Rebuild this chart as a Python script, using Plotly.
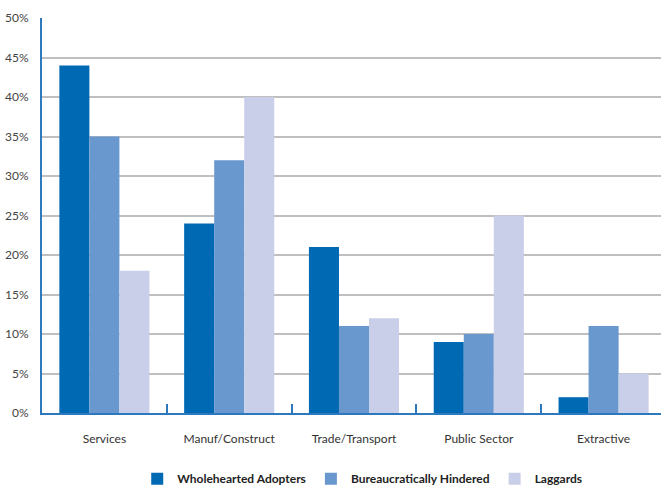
import plotly.graph_objects as go

categories = ["Services", "Manuf/Construct", "Trade/Transport", "Public Sector", "Extractive"]
series_names = ["Wholehearted Adopters", "Bureaucratically Hindered", "Laggards"]
wholehearted = [44, 24, 21, 9, 2]
bureaucratic = [35, 32, 11, 10, 11]
laggards = [18, 40, 12, 25, 5]
colors = ["#0069b4", "#6998cf", "#c9cfe8"]
y_ticks = [0, 5, 10, 15, 20, 25, 30, 35, 40, 45, 50]
y_labels = [f"{v}%" for v in y_ticks]

fig = go.Figure()
for name, vals, col in zip(series_names, [wholehearted, bureaucratic, laggards], colors):
    fig.add_trace(go.Bar(x=categories, y=vals, name=name, marker=dict(color=col, line=dict(width=0)),
                         showlegend=False))
# legend entries with larger square swatches
for name, col in zip(series_names, colors):
    fig.add_trace(go.Scatter(x=[None], y=[None], mode="markers", name=name,
                             marker=dict(symbol="square", size=14, color=col)))

fig.update_layout(
    width=661, height=489,
    margin=dict(l=42, r=0, t=18, b=76),
    paper_bgcolor="white", plot_bgcolor="white",
    barmode="group", bargap=0.278, bargroupgap=0,
    font=dict(family="Lato, Open Sans, sans-serif", size=12, color="#333333"),
    showlegend=True,
    legend=dict(orientation="h", x=0.548, xanchor="center", xref="container",
                y=0.021, yanchor="middle", yref="container",
                font=dict(size=12, color="#222222", family="Lato, sans-serif", weight="bold"),
                itemsizing="constant", bgcolor="rgba(0,0,0,0)"),
)
fig.update_xaxes(
    range=[-0.5, 4.46], showline=True, linecolor="#2e78bd", linewidth=2,
    ticks="inside", tickson="boundaries", ticklen=9, tickwidth=1.5, tickcolor="#2e78bd",
    showgrid=False, ticklabelstandoff=14,
    tickfont=dict(size=12, color="#333333"),
)
fig.update_yaxes(
    range=[0, 50], tickvals=y_ticks, ticktext=y_labels, showline=True, linecolor="#2e78bd",
    linewidth=2, showgrid=True, gridcolor="#bfbfbf", gridwidth=1.5, zeroline=False,
    ticks="", ticklabelstandoff=9, tickfont=dict(size=12, color="#444444"),
)
fig.write_html("out.html")
